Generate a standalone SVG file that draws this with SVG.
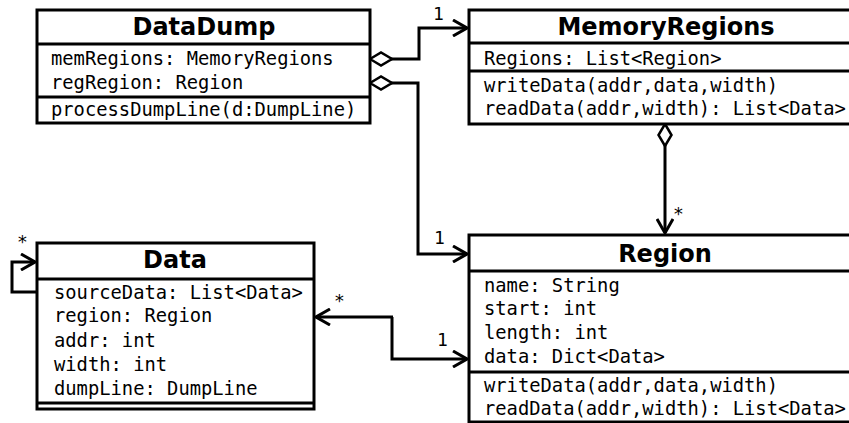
<svg xmlns="http://www.w3.org/2000/svg" width="849" height="423" viewBox="0 0 849 423">
  <style>
    .box { fill: #fff; stroke: #000; stroke-width: 3; }
    .sep { stroke: #000; stroke-width: 3; }
    .title { font-family: "DejaVu Sans", sans-serif; font-weight: bold; font-size: 24px; text-anchor: middle; fill: #000; }
    .mem { font-family: "DejaVu Sans Mono", monospace; font-size: 18.8px; fill: #000; }
    .mult { font-family: "DejaVu Sans Mono", monospace; font-size: 18px; fill: #000; }
    .wire { fill: none; stroke: #000; stroke-width: 3; }
  </style>
  <defs>
    <marker id="open" viewBox="0 0 16 18" refX="15" refY="9" markerWidth="16" markerHeight="18" markerUnits="userSpaceOnUse" orient="auto">
      <path d="M1,1 L15,9 L1,17" fill="none" stroke="#000" stroke-width="3"/>
    </marker>
    <marker id="diamond" viewBox="0 0 26 16" refX="1.5" refY="8" markerWidth="26" markerHeight="16" markerUnits="userSpaceOnUse" orient="auto">
      <path d="M1.5,8 L12.5,1.5 L23.5,8 L12.5,14.5 Z" fill="#fff" stroke="#000" stroke-width="2.5"/>
    </marker>
  </defs>

  <!-- class DataDump -->
  <g id="DataDump">
    <rect class="box" x="37" y="10" width="333" height="113"/>
    <line class="sep" x1="37" y1="44" x2="370" y2="44"/>
    <line class="sep" x1="37" y1="97" x2="370" y2="97"/>
    <text class="title" x="204" y="35">DataDump</text>
    <text class="mem" x="51" y="65">memRegions: MemoryRegions</text>
    <text class="mem" x="51" y="89">regRegion: Region</text>
    <text class="mem" x="51" y="116">processDumpLine(d:DumpLine)</text>
  </g>

  <!-- class MemoryRegions -->
  <g id="MemoryRegions">
    <rect class="box" x="469" y="10" width="394" height="114"/>
    <line class="sep" x1="469" y1="43" x2="863" y2="43"/>
    <line class="sep" x1="469" y1="71" x2="863" y2="71"/>
    <text class="title" x="666" y="35">MemoryRegions</text>
    <text class="mem" x="484" y="65">Regions: List&lt;Region&gt;</text>
    <text class="mem" x="484" y="92">writeData(addr,data,width)</text>
    <text class="mem" x="484" y="115">readData(addr,width): List&lt;Data&gt;</text>
  </g>

  <!-- class Region -->
  <g id="Region">
    <rect class="box" x="469" y="235" width="394" height="187"/>
    <line class="sep" x1="469" y1="271" x2="863" y2="271"/>
    <line class="sep" x1="469" y1="372" x2="863" y2="372"/>
    <text class="title" x="665" y="262">Region</text>
    <text class="mem" x="484" y="292">name: String</text>
    <text class="mem" x="484" y="315">start: int</text>
    <text class="mem" x="484" y="339">length: int</text>
    <text class="mem" x="484" y="363">data: Dict&lt;Data&gt;</text>
    <text class="mem" x="484" y="392">writeData(addr,data,width)</text>
    <text class="mem" x="484" y="415">readData(addr,width): List&lt;Data&gt;</text>
  </g>

  <!-- class Data -->
  <g id="Data">
    <rect class="box" x="37" y="243" width="277" height="166"/>
    <line class="sep" x1="37" y1="279" x2="314" y2="279"/>
    <line class="sep" x1="37" y1="403" x2="314" y2="403"/>
    <text class="title" x="175" y="268">Data</text>
    <text class="mem" x="54" y="299">sourceData: List&lt;Data&gt;</text>
    <text class="mem" x="54" y="322">region: Region</text>
    <text class="mem" x="54" y="347">addr: int</text>
    <text class="mem" x="54" y="371">width: int</text>
    <text class="mem" x="54" y="395">dumpLine: DumpLine</text>
  </g>

  <!-- associations -->
  <g id="connectors">
    <!-- DataDump.memRegions -> MemoryRegions -->
    <path class="wire" d="M370,59 H419 V28 H467" marker-start="url(#diamond)" marker-end="url(#open)"/>
    <text class="mult" x="433" y="20">1</text>
    <!-- DataDump.regRegion -> Region -->
    <path class="wire" d="M370,83 H418 V254 H467" marker-start="url(#diamond)" marker-end="url(#open)"/>
    <text class="mult" x="434" y="244">1</text>
    <!-- MemoryRegions aggregates Region -->
    <path class="wire" d="M665,124 V233" marker-start="url(#diamond)" marker-end="url(#open)"/>
    <text class="mult" x="673" y="220">*</text>
    <!-- Data <-> Region -->
    <path class="wire" d="M392,317 V359 H467" marker-end="url(#open)"/>
    <path class="wire" d="M393,317 H316" marker-end="url(#open)"/>
    <text class="mult" x="334" y="307">*</text>
    <text class="mult" x="437" y="346">1</text>
    <!-- Data.sourceData self reference -->
    <path class="wire" d="M37,292 H12 V262 H35" marker-end="url(#open)"/>
    <text class="mult" x="17" y="248">*</text>
  </g>
</svg>
